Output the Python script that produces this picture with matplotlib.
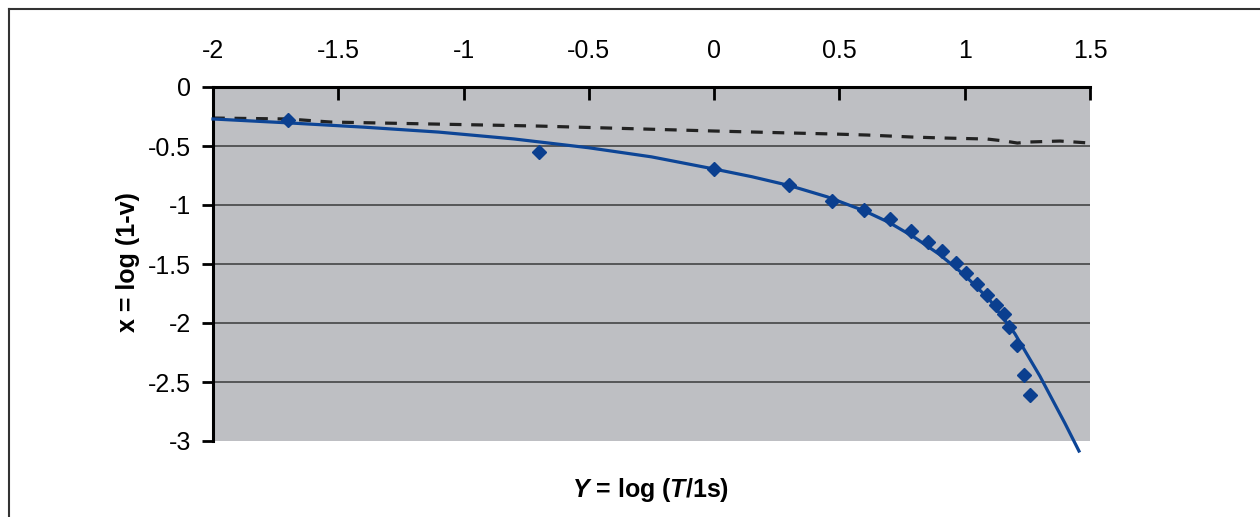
import numpy as np
import matplotlib
matplotlib.use("Agg")
import matplotlib.pyplot as plt
from matplotlib.lines import Line2D

plt.rcParams['font.family'] = ['Liberation Sans', 'DejaVu Sans']
plt.rcParams['mathtext.fontset'] = 'custom'
plt.rcParams['mathtext.bfit'] = 'Liberation Sans:bold:italic'
plt.rcParams['mathtext.rm'] = 'Liberation Sans:bold'
plt.rcParams['lines.scale_dashes'] = False

# measured points (Y = log T, x = log(1-v))
pts_Y = [-1.70, -0.70, 0.0, 0.30, 0.47, 0.60, 0.70, 0.785, 0.853, 0.909, 0.965,
         1.005, 1.049, 1.089, 1.124, 1.156, 1.176, 1.208, 1.236, 1.260]
pts_x = [-0.28, -0.55, -0.695, -0.83, -0.966, -1.04, -1.12, -1.22, -1.31, -1.39, -1.49,
         -1.58, -1.67, -1.76, -1.85, -1.92, -2.03, -2.19, -2.44, -2.61]

# fitted curve
fit_Y = [-2.0, -1.7, -1.4, -1.1, -0.8, -0.5, -0.25, 0.0, 0.15, 0.3, 0.45, 0.6,
         0.7, 0.8, 0.9, 1.0, 1.1, 1.2, 1.3, 1.4, 1.456]
fit_x = [-0.271, -0.304, -0.340, -0.382, -0.440, -0.515, -0.592, -0.695, -0.760,
         -0.835, -0.930, -1.050, -1.150, -1.275, -1.420, -1.595, -1.805, -2.090,
         -2.450, -2.850, -3.085]

# dashed line
dash_Y = [-2.0, -1.70, -1.53, -0.70, 0.0, 0.31, 0.47, 0.61, 0.79, 0.91, 1.09,
          1.16, 1.21, 1.26, 1.38, 1.5]
dash_x = [-0.263, -0.271, -0.297, -0.331, -0.373, -0.390, -0.398, -0.407, -0.424,
          -0.432, -0.441, -0.458, -0.475, -0.466, -0.458, -0.475]

xticks = [-2, -1.5, -1, -0.5, 0, 0.5, 1, 1.5]
yticks = [0, -0.5, -1, -1.5, -2, -2.5, -3]

fig = plt.figure(figsize=(12.6, 5.17), dpi=100)
ax = fig.add_axes([213/1260, 1 - 441/517, 877/1260, 354/517])
ax.set_facecolor('#BEBFC3')

for yv in yticks[1:-1]:
    ax.axhline(yv, color='#3a3a3a', lw=1.1, zorder=1)

ax.plot(dash_Y, dash_x, color='#222222', lw=2.3, dashes=(8.5, 7), zorder=2)
ax.plot(fit_Y, fit_x, color='#0D4596', lw=2.3, zorder=3, clip_on=False)
ax.plot(pts_Y, pts_x, 'D', color='#0B3F8F', markersize=7.5, zorder=4, clip_on=False)

ax.set_xlim(-2, 1.5)
ax.set_ylim(-3, 0)
ax.set_xticks(xticks)
ax.set_yticks(yticks)
ax.set_xticklabels(['%g' % v for v in xticks])
ax.set_yticklabels(['%g' % v for v in yticks])
ax.xaxis.tick_top()
ax.tick_params(axis='x', direction='in', length=9, width=2, pad=17, labelsize=18)
ax.tick_params(axis='y', direction='out', length=8, width=2, pad=8, labelsize=18)
for side in ['right', 'bottom']:
    ax.spines[side].set_visible(False)
for side in ['left', 'top']:
    ax.spines[side].set_linewidth(2.2)

fig.text(128/1260, 1 - 262/517, 'x = log (1-v)', rotation=90, fontsize=18,
         fontweight='bold', ha='center', va='center')
fig.text(651/1260, 1 - 490/517, r'$\mathbfit{Y}$ = log ($\mathbfit{T}$/1s)', fontsize=18,
         fontweight='bold', ha='center', va='center')

# frame around the figure
fig.add_artist(Line2D([9/1260, 9/1260], [0, 1 - 9/517], color='#333333', lw=1.5))
fig.add_artist(Line2D([9/1260, 1], [1 - 9/517, 1 - 9/517], color='#333333', lw=1.5))

fig.savefig('out.png', dpi=100)
